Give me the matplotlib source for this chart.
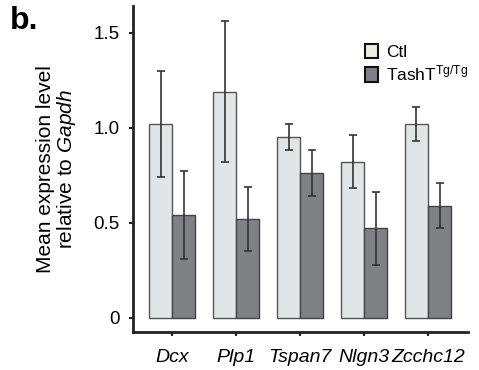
import matplotlib.pyplot as plt
import numpy as np
from matplotlib.patches import Patch

plt.rcParams['font.family'] = ['Liberation Sans', 'DejaVu Sans']
plt.rcParams['mathtext.fontset'] = 'custom'
plt.rcParams['mathtext.rm'] = 'Liberation Sans'
plt.rcParams['mathtext.it'] = 'Liberation Sans:italic'

genes = ['Dcx', 'Plp1', 'Tspan7', 'Nlgn3', 'Zcchc12']
ctl_mean = [1.02, 1.19, 0.95, 0.82, 1.02]
ctl_err = [0.28, 0.37, 0.07, 0.14, 0.09]
tg_mean = [0.54, 0.52, 0.76, 0.47, 0.59]
tg_err = [0.23, 0.17, 0.12, 0.19, 0.12]

fig = plt.figure(figsize=(4.79, 3.7), dpi=100)
ax = fig.add_axes([0.278, 0.103, 0.699, 0.881])

x = np.arange(len(genes))
w = 0.36
err_kw = dict(ecolor='#333333', elinewidth=1.2, capsize=3, capthick=1.2)
ax.bar(x - w / 2, ctl_mean, w, yerr=ctl_err, color='#e3e4e6', edgecolor='#555555',
       linewidth=1, error_kw=err_kw, zorder=2)
ax.bar(x + w / 2, tg_mean, w, yerr=tg_err, color='#7f8083', edgecolor='#444444',
       linewidth=1, error_kw=err_kw, zorder=2)

ax.set_xlim(-0.61, 4.625)
ax.set_ylim(-0.074, 1.64)
ax.set_xticks(x)
ax.set_xticklabels(genes, fontstyle='italic', fontsize=14)
ax.set_yticks([0, 0.5, 1.0, 1.5])
ax.set_yticklabels(['0', '0.5', '1.0', '1.5'], fontsize=13.5)
ax.tick_params(direction='out', length=3, width=1.5, color='#222222', pad=7)
ax.tick_params(axis='x', pad=9)
for s in ['top', 'right']:
    ax.spines[s].set_visible(False)
for s in ['left', 'bottom']:
    ax.spines[s].set_linewidth(2)
    ax.spines[s].set_color('#222222')

ax.set_ylabel('Mean expression level\nrelative to $\\it{Gapdh}$', fontsize=15,
              labelpad=11, linespacing=1.0)

handles = [Patch(facecolor='#eeece2', edgecolor='#111111', linewidth=1.5),
           Patch(facecolor='#7f8083', edgecolor='#111111', linewidth=1.5)]
ax.legend(handles, ['Ctl', 'TashT$^{\\mathrm{Tg/Tg}}$'], loc='upper left',
          bbox_to_anchor=(0.743, 0.905), bbox_transform=fig.transFigure,
          frameon=False, fontsize=12.5, handlelength=0.8, handleheight=0.9,
          handletextpad=0.45, labelspacing=0.2, borderpad=0)

fig.text(0.02, 0.985, 'b.', fontsize=23, fontweight='bold', va='top')

plt.savefig('out.png', dpi=100)
